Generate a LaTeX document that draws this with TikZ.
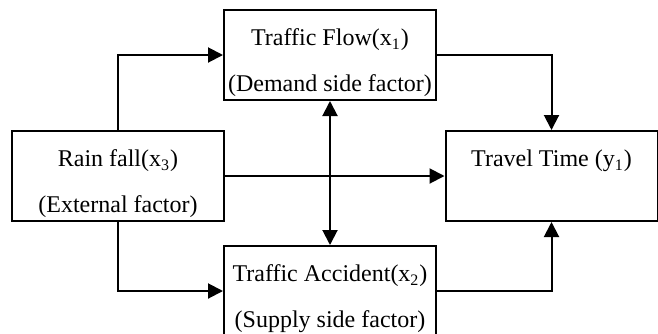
\documentclass[tikz,border=0pt]{standalone}
\usepackage{fontspec}
\setmainfont{Liberation Serif}
\usetikzlibrary{arrows.meta,positioning}
\newcommand{\topgap}{\rule{0pt}{16pt}}
\tikzset{factor/.style={draw,line width=1pt,minimum width=106pt,minimum height=45pt,align=center,font=\fontsize{12}{14}\selectfont,inner sep=0pt},arr/.style={-{Triangle[length=7.5pt,width=7.5pt]},line width=1pt},both/.style={{Triangle[length=7.5pt,width=7.5pt]}-{Triangle[length=7.5pt,width=7.5pt]},line width=1pt}}

\begin{document}
\begin{tikzpicture}
\useasboundingbox (0,0) rectangle (329pt,-166.5pt);
\node[factor] (rain) at (59pt,-88pt) {\topgap Rain fall(x\textsubscript{3})\\[9pt](External factor)};
\node[factor] (flow) at (165pt,-27.5pt) {\topgap Traffic Flow(x\textsubscript{1})\\[9pt](Demand side factor)};
\node[factor] (acc) at (165pt,-145.5pt) {\topgap Traffic Accident(x\textsubscript{2})\\[9pt](Supply side factor)};
\node[factor] (time) at (275.75pt,-88pt) {\topgap Travel Time (y\textsubscript{1})\\[9pt]\vphantom{(}};
\draw[arr] (rain.north) |- (flow.west);
\draw[arr] (rain.south) |- (acc.west);
\draw[arr] (rain.east) -- (time.west);
\draw[arr] (flow.east) -| (time.north);
\draw[arr] (acc.east) -| (time.south);
\draw[both] (flow.south) -- (acc.north);
\end{tikzpicture}
\end{document}
